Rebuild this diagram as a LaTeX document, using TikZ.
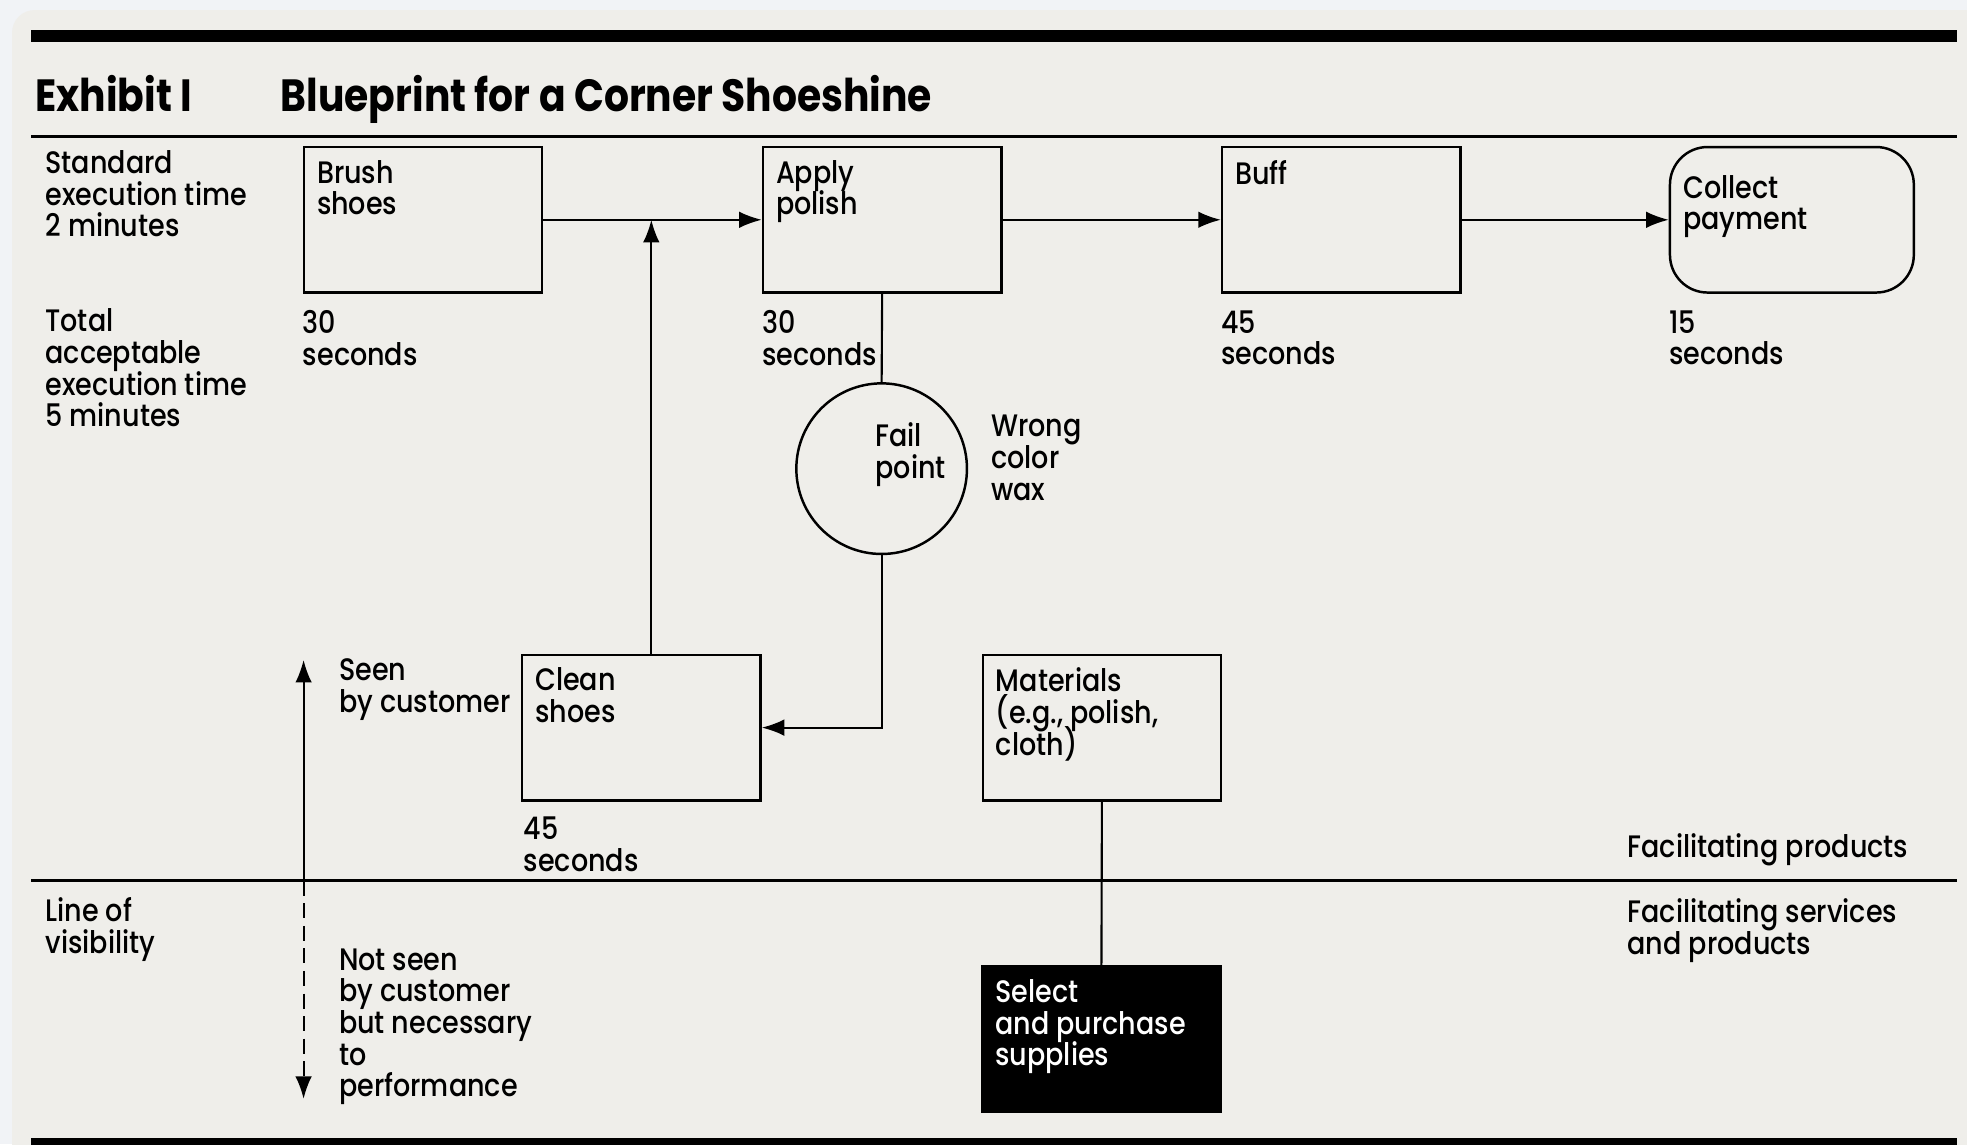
\documentclass[tikz,border=0pt]{standalone}
\usepackage{fontspec}
\setmainfont{Poppins Medium}[FakeStretch=0.87]
\newfontfamily\titfont{Poppins}[FakeStretch=0.87]
\usetikzlibrary{arrows.meta,positioning,calc}
\definecolor{fondo}{HTML}{F1F3F6}
\definecolor{papel}{HTML}{EFEEEA}
\newcommand{\cuerpo}{\fontsize{17.6pt}{17.9pt}\selectfont\lineskiplimit=-20pt}
\tikzset{
  caja/.style    = {draw, line width=1.4pt, minimum width=4.75cm,
                    minimum height=2.9cm, inner sep=0pt},
  fallo/.style   = {draw, circle, line width=1.4pt, minimum size=3.4cm,
                    inner sep=0pt},
  txt/.style     = {font=\cuerpo, align=left, inner sep=0pt, anchor=north west},
  txtcaja/.style = {txt, inner sep=0.28cm},
  titulo/.style  = {font=\titfont\bfseries\fontsize{25.6pt}{28pt}\selectfont,
                    inner sep=0pt, anchor=base west},
  regla/.style   = {line width=1.7pt},
  linea/.style   = {line width=1.2pt},
  flecha/.style  = {-{Latex[length=4.5mm,width=3.3mm]}, line width=1.2pt},
  flechad/.style = {flecha, dash pattern=on 3mm off 1.5mm},
}
\begin{document}
\begin{tikzpicture}
  \useasboundingbox (0,0) rectangle (39.2,-22.8);
  \fill[fondo] (0,0) rectangle (39.2,-22.8);
  \fill[papel, rounded corners=0.45cm] (0.24,-0.2) rectangle (39.8,-23.4);
  % reglas
  \fill (0.625,-0.6) rectangle (39.0,-0.84);
  \draw[regla] (0.625,-2.725) -- (39.0,-2.725);
  \draw[regla] (0.625,-17.55) -- (39.0,-17.55);
  \fill (0.625,-22.675) rectangle (39.0,-23.0);
  \node[titulo] (exhibit) at (0.7,-2.225) {Exhibit I};
  \node[titulo] (blueprint) at (5.59,-2.225) {Blueprint for a Corner Shoeshine};
  % columna izquierda
  \node[txt] (standard) at (0.9,-3.0) {Standard\\execution time\\2 minutes};
  \node[txt] (total) at (0.9,-6.15) {Total\\acceptable\\execution time\\5 minutes};
  \node[txt] (visib) at (0.9,-17.88) {Line of\\visibility};
  % pasos
  \node[caja] (brush) at (8.43,-4.38) {};
  \node[caja] (apply) at (17.58,-4.38) {};
  \node[caja] (buff) at (26.73,-4.38) {};
  \node[caja, rounded corners=0.75cm, minimum width=4.86cm] (collect) at (35.71,-4.38) {};
  \node[fallo] (fail) at (17.57,-9.34) {};
  \node[caja] (clean) at (12.78,-14.5) {};
  \node[caja] (materials) at (21.96,-14.5) {};
  \node[caja, fill=black] (select) at (21.95,-20.71) {};
  \node[txtcaja] (brushT) at (brush.north west) {Brush\\shoes};
  \node[txtcaja] (applyT) at (apply.north west) {Apply\\polish};
  \node[txtcaja] (buffT) at (buff.north west) {Buff};
  \node[txtcaja, yshift=-0.3cm] (collectT) at (collect.north west) {Collect\\payment};
  \node[txtcaja] (cleanT) at (clean.north west) {Clean\\shoes};
  \node[txtcaja] (materialsT) at (materials.north west) {Materials\\(e.g., polish,\\cloth)};
  \node[txtcaja, text=white] (selectT) at (select.north west) {Select\\and purchase\\supplies};
  \node[txt] (failT) at (17.44,-8.42) {Fail\\point};
  \node[txt] (wrong) at (19.75,-8.27) {Wrong\\color\\wax};
  % tiempos
  \node[txt] (brushS) at ([yshift=-0.33cm]brush.south west) {30\\seconds};
  \node[txt] (applyS) at ([yshift=-0.33cm]apply.south west) {30\\seconds};
  \node[txt] (buffS) at ([yshift=-0.33cm]buff.south west) {45\\seconds};
  \node[txt] (collectS) at ([yshift=-0.33cm]collect.south west) {15\\seconds};
  \node[txt] (cleanS) at ([shift={(0.05,-0.3)}]clean.south west) {45\\seconds};
  % visibilidad
  \node[txt] (seen) at (6.75,-13.12) {Seen\\by customer};
  \node[txt] (notseen) at (6.75,-18.9) {Not seen\\by customer\\but necessary\\to\\performance};
  \node[txt] (facprod) at (32.43,-16.6) {Facilitating products};
  \node[txt] (facserv) at (32.43,-17.9) {Facilitating services\\and products};
  % conectores
  \coordinate (cleanUp) at ([xshift=0.2cm]clean.north);
  \coordinate (visA) at (6.05,-17.55);
  \coordinate (seenTip) at (6.05,-13.15);
  \coordinate (notseenTip) at (6.05,-21.9);
  \draw[flecha] (brush.east) -- (apply.west);
  \draw[flecha] (apply.east) -- (buff.west);
  \draw[flecha] (buff.east) -- (collect.west);
  \draw[flecha] (cleanUp) -- (cleanUp |- brush.east);
  \draw[linea] (apply.south) -- (fail.north);
  \draw[flecha] (fail.south) |- (clean.east);
  \draw[linea] (materials.south) -- (select.north);
  \draw[flecha] (visA) -- (seenTip);
  \draw[flechad] (visA) -- (notseenTip);
\end{tikzpicture}
\end{document}
